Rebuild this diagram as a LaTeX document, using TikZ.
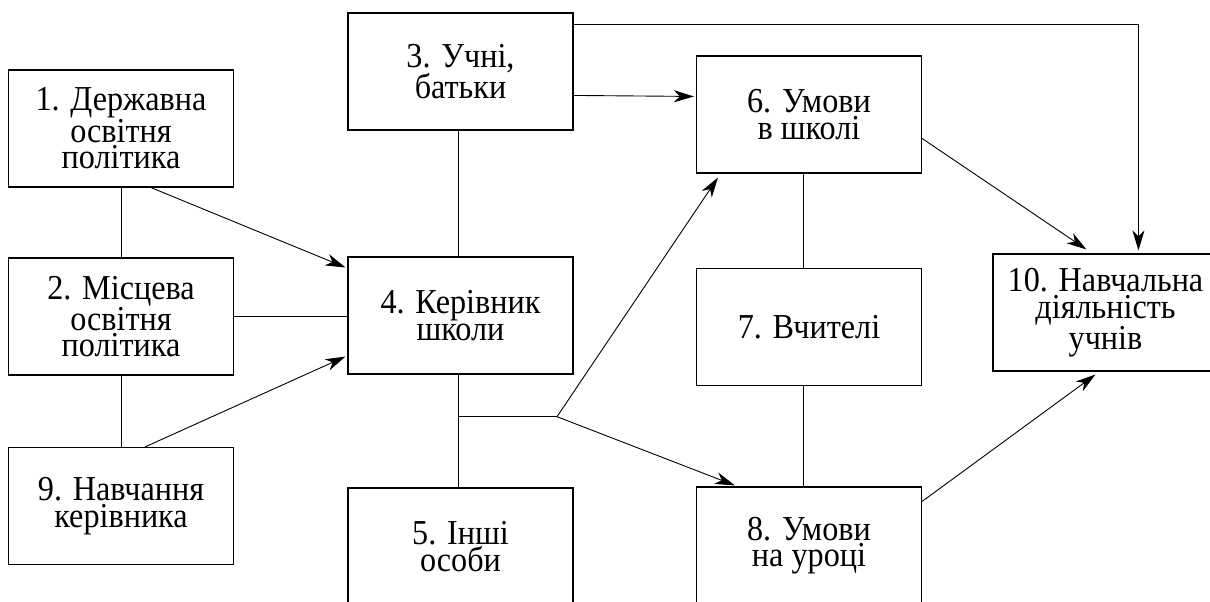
\documentclass[tikz,border=0pt]{standalone}
\usepackage{fontspec}
\setmainfont{Liberation Serif}
\newfontfamily\tnr[FakeStretch=0.92]{Liberation Serif}
\usetikzlibrary{arrows.meta,calc}
\tikzset{
  box/.style={draw, line width=1.1pt, minimum width=225pt, minimum height=117pt,
    inner sep=0pt, align=center, font=\tnr\fontsize{35}{26.5}\selectfont},
  link/.style={line width=0.9pt},
  arr/.style={line width=0.9pt, -{Stealth[length=20pt,width=12pt,inset=6pt]}}
}
\begin{document}
\begin{tikzpicture}[x=1pt,y=-1pt]
\useasboundingbox (0,0) rectangle (1210,602);
\clip (0,0) rectangle (1210,602);
\node[box] (n1) at (121,128.5) {1. Державна\\освітня\\політика};
\node[box] (n2) at (121,316.5) {2. Місцева\\освітня\\політика};
\node[box] (n9) at (121,506) {9. Навчання\\керівника};
\node[box] (n3) at (460.5,71.5) {3. Учні,\\батьки};
\node[box] (n4) at (460.5,315.5) {4. Керівник\\школи};
\node[box] (n5) at (460.5,546.5) {5. Інші\\особи};
\node[box] (n6) at (809,114.5) {6. Умови\\в школі};
\node[box] (n7) at (809,327) {7. Вчителі};
\node[box] (n8) at (809,545.5) {8. Умови\\на уроці};
\node[box] (n10) at (1105.5,312.5) {10. Навчальна\\діяльність\\учнів};
\coordinate (br) at (557,416.7);
% plain links
\draw[link] (n1.south) -- (n2.north);
\draw[link] (n2.south) -- (n9.north);
\draw[link] (n2.east) -- (n2.east -| n4.west);
\draw[link] ([xshift=-2pt]n3.south) -- ([xshift=-2pt]n4.north);
\draw[link] ([xshift=-2pt]n4.south) -- ([xshift=-2pt]n5.north);
\draw[link] (br -| n4.south) ++(-2pt,0) -- (br);
\draw[link] ([xshift=-6pt]n6.south) -- ([xshift=-6pt]n7.north);
\draw[link] ([xshift=-6pt]n7.south) -- ([xshift=-6pt]n8.north);
% arrows
\draw[arr] ($(n1.south west)+(143,0)$) -- ($(n4.north west)+(-2,11)$);
\draw[arr] ($(n9.north west)+(137,0)$) -- ($(n4.south west)+(-2,-18)$);
\draw[arr] ($(n3.north east)+(0,83)$) -- ($(n6.north west)+(-2,41)$);
\draw[arr] ($(n3.north east)+(0,12)$) -| ($(n10.north west)+(146,-3)$);
\draw[arr] (br) -- ($(n6.south west)+(22,4)$);
\draw[arr] (br) -- ($(n8.north west)+(39,-1)$);
\draw[arr] ($(n6.north east)+(0,83)$) -- ($(n10.north west)+(94,-4)$);
\draw[arr] ($(n8.north east)+(0,15)$) -- ($(n10.south west)+(103,3)$);
\end{tikzpicture}
\end{document}
